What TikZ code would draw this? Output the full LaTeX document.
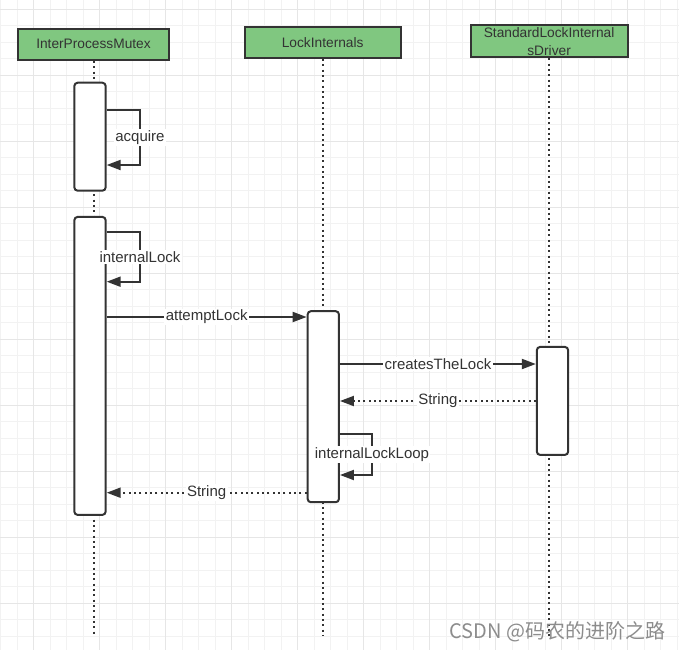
\documentclass[tikz,border=0pt]{standalone}
\usepackage{fontspec}
\setmainfont{Liberation Sans}
\newfontfamily\cjkfont{Noto Sans CJK SC}
\usetikzlibrary{arrows.meta}
\definecolor{headgreen}{RGB}{128,199,128}
\definecolor{inkgray}{RGB}{51,51,51}
\definecolor{gridminor}{RGB}{242,242,242}
\definecolor{gridmajor}{RGB}{230,230,230}
\definecolor{markgray}{RGB}{140,140,140}
\begin{document}
\begin{tikzpicture}[
		x=0.75pt, y=-0.75pt,
		gridline/.style={draw=gridminor, line width=0.75pt},
		gridbold/.style={draw=gridmajor, line width=0.75pt},
		header/.style={draw=inkgray, line width=1.5pt, fill=headgreen, text=inkgray,
				font=\fontsize{10.3}{13.5}\selectfont, align=center, inner sep=0pt,
				minimum height=23.5pt},
		lifeline/.style={draw=inkgray, line width=1.5pt, dash pattern=on 1.5pt off 2.5pt},
		act/.style={draw=inkgray, line width=1.5pt, fill=white, rounded corners=2.5pt,
				minimum width=23.5pt, inner sep=0pt},
		call/.style={draw=inkgray, line width=1.5pt, -{Triangle[length=10.5pt,width=7.5pt]}},
		reply/.style={call, dash pattern=on 1.5pt off 2.5pt},
		msg/.style={fill=white, text=inkgray, inner sep=1pt, font=\fontsize{11.25}{13}\selectfont},
		watermark/.style={text=markgray, inner sep=0pt, font=\cjkfont\fontsize{15}{18}\selectfont},
	]
	\useasboundingbox[fill=white] (0,0) rectangle (679,650);
	% background grid
	\foreach \i in {0,...,41} {
			\draw[gridline] (0.7+16.5*\i,0) -- (0.7+16.5*\i,650);
		}
	\foreach \i in {0,...,38} {
			\draw[gridline] (0,9.3+16.5*\i) -- (679,9.3+16.5*\i);
		}
	\foreach \i in {0,...,9} {
			\draw[gridbold] (33.7+66*\i,0) -- (33.7+66*\i,650);
			\draw[gridbold] (0,9.3+66*\i) -- (679,9.3+66*\i);
		}

	% participants
	\node[header, minimum width=112.8pt] (ipm) at (93.5,44.3) {InterProcessMutex};
	\node[header, minimum width=117pt] (li) at (322.7,42.3) {LockInternals};
	\node[header, minimum width=117.7pt, minimum height=24pt] (drv) at (549.1,41.3) {StandardLockInternal\\sDriver};

	\coordinate (ipmEnd) at (ipm.south |- 0,636);
	\coordinate (liEnd) at (li.south |- 0,636);
	\coordinate (drvEnd) at (drv.south |- 0,636);
	\draw[lifeline] (ipm.south) -- (ipmEnd);
	\draw[lifeline] (li.south) -- (liEnd);
	\draw[lifeline] (drv.south) -- (drvEnd);

	% activations
	\node[act, minimum height=81pt] (acq) at (90,136.7) {};
	\node[act, minimum height=223.5pt] (lock) at (90,365.9) {};
	\node[act, minimum height=143.3pt] (liAct) at (323.3,406.7) {};
	\node[act, minimum height=81pt] (drvAct) at (552.5,400.9) {};

	% messages
	\draw[call] (acq.east |- 0,110) -- ++(33.3,0) -- ++(0,55) node[msg, midway] {acquire} -- (acq.east |- 0,165);
	\draw[call] (lock.east |- 0,232) -- ++(33.3,0) -- ++(0,49.7) node[msg, midway] {internalLock} -- (lock.east |- 0,281.7);
	\draw[call] (lock.east |- 0,317) -- (liAct.west |- 0,317) node[msg, pos=0.5] {attemptLock};
	\draw[call] (liAct.east |- 0,364) -- (drvAct.west |- 0,364) node[msg, pos=0.5] {createsTheLock};
	\draw[reply] (drvAct.west |- 0,401) -- (liAct.east |- 0,401) node[msg, pos=0.5] {String};
	\draw[call] (liAct.east |- 0,434) -- ++(32,0) -- ++(0,41) node[msg, midway] {internalLockLoop} -- (liAct.east |- 0,475);
	\draw[reply] (liAct.west |- 0,492.7) -- (lock.east |- 0,492.7) node[msg, pos=0.5] {String};

	\node[watermark] (wm) at (557.5,631.5) {CSDN @码农的进阶之路};
\end{tikzpicture}
\end{document}
